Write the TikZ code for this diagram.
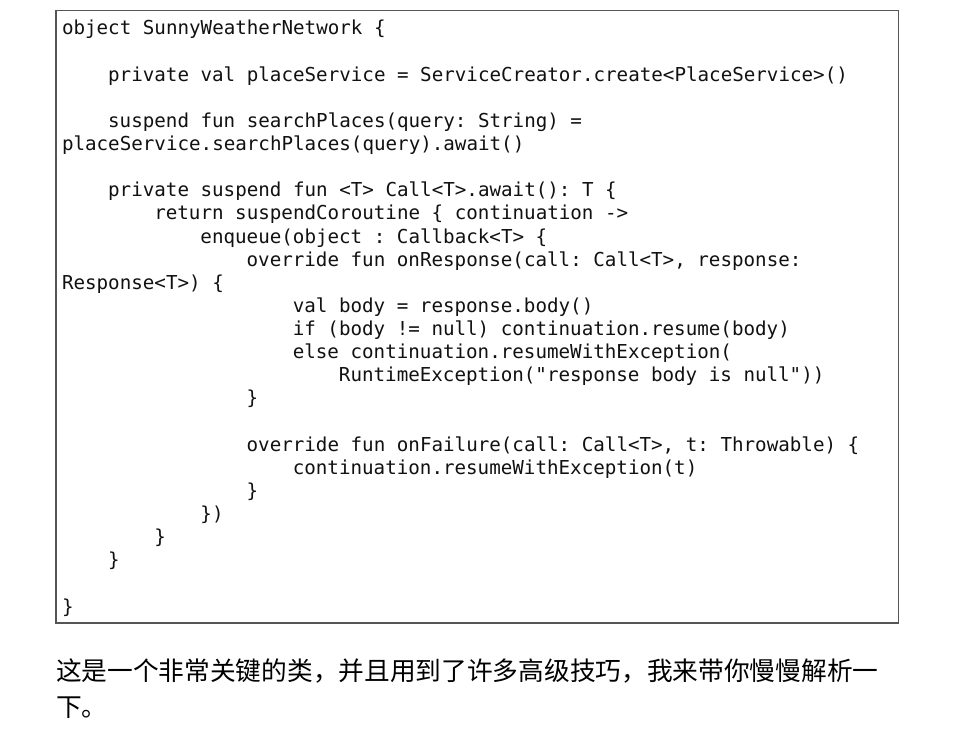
\documentclass[tikz,border=0pt]{standalone}
\usepackage{fontspec}
\setmonofont{DejaVu Sans Mono}
\newfontfamily\cjk{Noto Sans CJK SC}
\definecolor{boxline}{HTML}{555555}
\definecolor{codeink}{HTML}{111111}
\tikzset{
  codeline/.style={anchor=base west, inner sep=0pt, outer sep=0pt, text=codeink,
    font=\ttfamily\fontsize{19.2}{23.12}\selectfont},
  zhline/.style={anchor=base west, inner sep=0pt, outer sep=0pt, text=black,
    font=\cjk\fontsize{25.7}{36}\selectfont},
  codebox/.style={draw=boxline, line width=1.5pt}
}
\begin{document}
\begin{tikzpicture}[x=1pt,y=-1pt]
\useasboundingbox (0,0) rectangle (960,730);
\fill[white] (0,0) rectangle (960,730);
\draw[codebox] (56,10.5) rectangle (898.5,623);
\def\cw{11.54}
\def\lh{23.12}
\node[codeline] (l0)  at (62,35+0*\lh) {object SunnyWeatherNetwork \{};
\node[codeline] (l2)  at (62+4*\cw,35+2*\lh) {private val placeService = ServiceCreator.create<PlaceService>()};
\node[codeline] (l4)  at (62+4*\cw,35+4*\lh) {suspend fun searchPlaces(query: String) =};
\node[codeline] (l5)  at (62,35+5*\lh) {placeService.searchPlaces(query).await()};
\node[codeline] (l7)  at (62+4*\cw,35+7*\lh) {private suspend fun <T> Call<T>.await(): T \{};
\node[codeline] (l8)  at (62+8*\cw,35+8*\lh) {return suspendCoroutine \{ continuation ->};
\node[codeline] (l9)  at (62+12*\cw,35+9*\lh) {enqueue(object : Callback<T> \{};
\node[codeline] (l10) at (62+16*\cw,35+10*\lh) {override fun onResponse(call: Call<T>, response:};
\node[codeline] (l11) at (62,35+11*\lh) {Response<T>) \{};
\node[codeline] (l12) at (62+20*\cw,35+12*\lh) {val body = response.body()};
\node[codeline] (l13) at (62+20*\cw,35+13*\lh) {if (body != null) continuation.resume(body)};
\node[codeline] (l14) at (62+20*\cw,35+14*\lh) {else continuation.resumeWithException(};
\node[codeline] (l15) at (62+24*\cw,35+15*\lh) {RuntimeException("response body is null"))};
\node[codeline] (l16) at (62+16*\cw,35+16*\lh) {\}};
\node[codeline] (l18) at (62+16*\cw,35+18*\lh) {override fun onFailure(call: Call<T>, t: Throwable) \{};
\node[codeline] (l19) at (62+20*\cw,35+19*\lh) {continuation.resumeWithException(t)};
\node[codeline] (l20) at (62+16*\cw,35+20*\lh) {\}};
\node[codeline] (l21) at (62+12*\cw,35+21*\lh) {\})};
\node[codeline] (l22) at (62+8*\cw,35+22*\lh) {\}};
\node[codeline] (l23) at (62+4*\cw,35+23*\lh) {\}};
\node[codeline] (l25) at (62,35+25*\lh) {\}};
\node[zhline] (z1) at (56,680) {这是一个非常关键的类，并且用到了许多高级技巧，我来带你慢慢解析一};
\node[zhline] (z2) at (56,716) {下。};
\end{tikzpicture}
\end{document}
